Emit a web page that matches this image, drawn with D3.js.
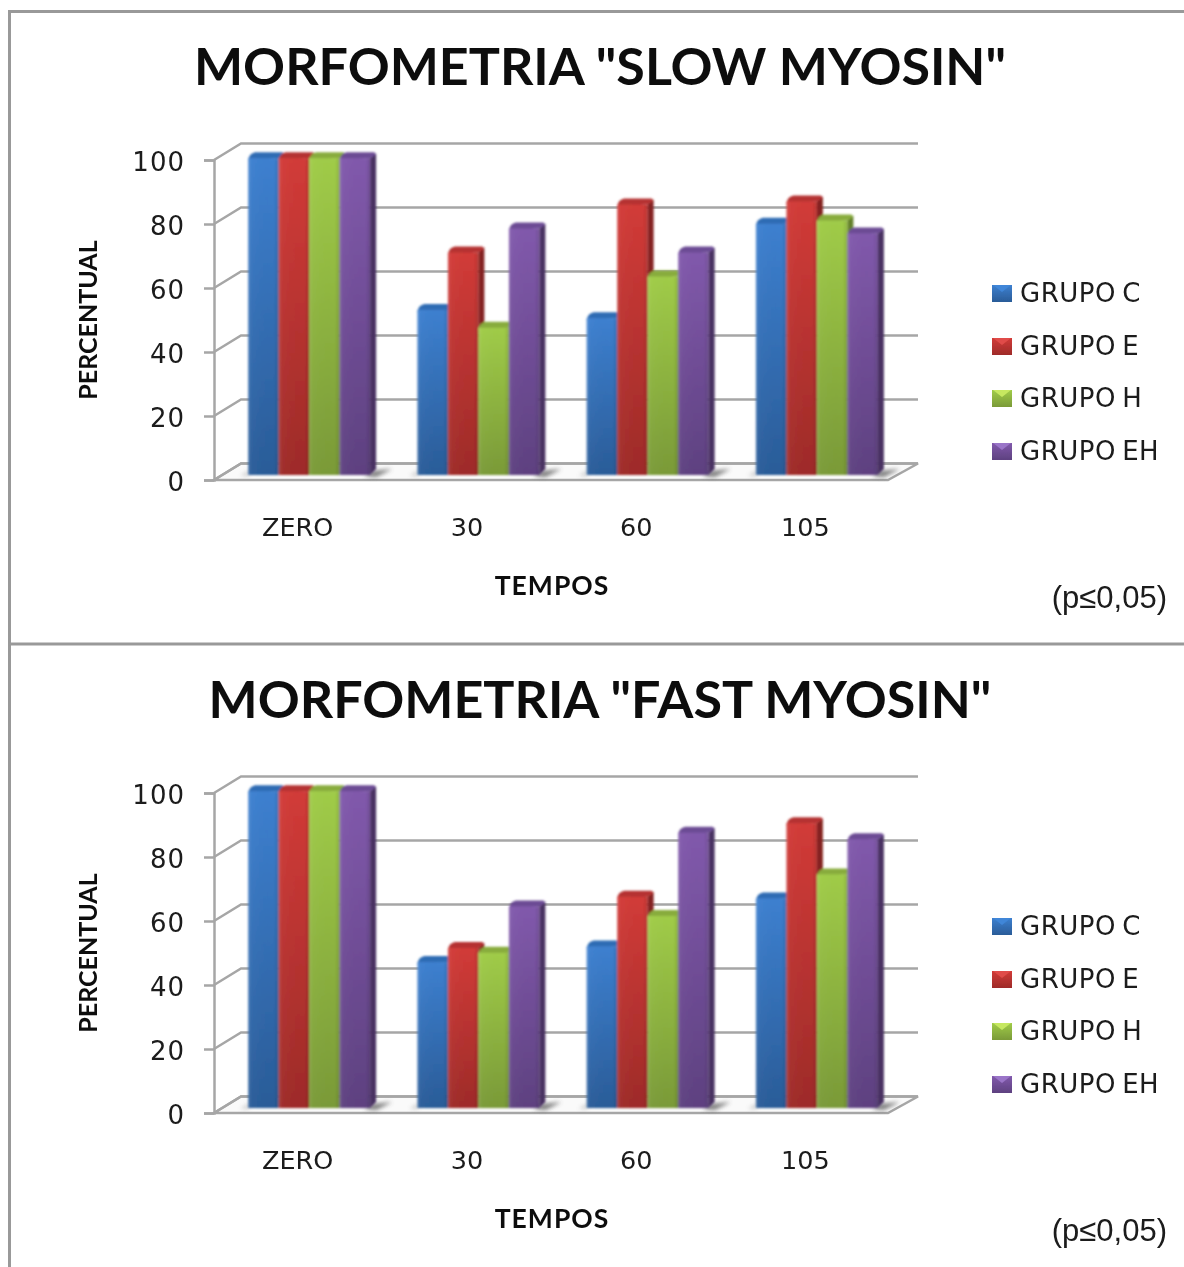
<!DOCTYPE html>
<html><head><meta charset="utf-8">
<script src="https://cdn.jsdelivr.net/npm/d3@7"></script>
<style>html,body{margin:0;padding:0;background:#fff}svg{display:block}text{fill:#1a1a1a}</style>
</head><body><svg id="c" width="1184" height="1267"></svg>
<script>
const categories = ["ZERO","30","60","105"];
const seriesNames = ["GRUPO C","GRUPO E","GRUPO H","GRUPO EH"];
const slowC = [99,51.6,49,78.5];
const slowE = [99,69.5,84.5,85.5];
const slowH = [99,46,62,79.5];
const slowEH = [99,77,69.5,75.5];
const fastC = [99,45.6,50.5,65.5];
const fastE = [99,50,66,89];
const fastH = [99,48.5,60,73];
const fastEH = [99,63,86,84];
const yTicks = [0,20,40,60,80,100];
const titles = ['MORFOMETRIA "SLOW MYOSIN"','MORFOMETRIA "FAST MYOSIN"'];
const palette = [
 {hi:"#3d80d0",lo:"#2a5c98",side:"#1f4a7c",top:"#2f6cb4",sw:"#3f86d8"},
 {hi:"#d23b38",lo:"#9e2b29",side:"#842321",top:"#b53230",sw:"#e04c48"},
 {hi:"#a0cc48",lo:"#7a9a38",side:"#64802c",top:"#88ac3c",sw:"#c6e860"},
 {hi:"#8159ac",lo:"#5e4180",side:"#483362",top:"#6c4c94",sw:"#9a74c8"}
];
const svg = d3.select("#c");
const defs = svg.append("defs");
defs.append("filter").attr("id","soft").append("feGaussianBlur").attr("stdDeviation",0.6);
defs.append("filter").attr("id","barsoft").append("feGaussianBlur").attr("stdDeviation",0.9);
const shf=defs.append("filter").attr("id","shadow").attr("x","-50%").attr("y","-100%").attr("width","200%").attr("height","300%");
shf.append("feGaussianBlur").attr("stdDeviation",2);
palette.forEach((p,i)=>{
  const g=defs.append("linearGradient").attr("id","g"+i).attr("x1",0).attr("x2",0).attr("y1",0).attr("y2",1);
  g.append("stop").attr("offset",0).attr("stop-color",p.hi);
  g.append("stop").attr("offset",1).attr("stop-color",p.lo);
});
const bevel=defs.append("linearGradient").attr("id","bevel");
[[0,"#fff",.14],[.1,"#fff",.02],[.85,"#000",0],[1,"#000",.12]].forEach(d=>
  bevel.append("stop").attr("offset",d[0]).attr("stop-color",d[1]).attr("stop-opacity",d[2]));

const root = svg.append("g").attr("filter","url(#soft)");
const frame=root.append("g").attr("stroke","#999").attr("stroke-width",3).attr("fill","none");
frame.append("path").attr("d","M1184 11.5H9.5V1267");
frame.append("path").attr("d","M9.5 644H1184");

function chart(dy,title,data){
  const g=root.append("g").attr("transform",`translate(0,${dy})`);
  const y=d3.scaleLinear().domain([0,100]).range([480,160]);
  const x=d3.scaleBand().domain(categories).range([213,890]);
  const dxW=27, dyW=-16.5, rightBack=918, rightFront=888;
  g.append("text").attr("x",600).attr("y",85).attr("text-anchor","middle")
    .attr("font-family","Lato").attr("font-weight",700).attr("font-size",52).style("fill","#111").text(title);
  g.append("path").attr("d",`M214 ${y(0)}L${rightFront} ${y(0)}L${rightBack} ${y(0)+dyW}L${214+dxW} ${y(0)+dyW}Z`)
    .attr("fill","#fafafa").attr("stroke","#a6a6a6").attr("stroke-width",2.5);
  const grid=g.append("g").attr("fill","none").attr("stroke","#a6a6a6").attr("stroke-width",2.5);
  grid.selectAll("path").data(yTicks).join("path")
    .attr("d",v=>`M214 ${y(v)}L${214+dxW} ${y(v)+dyW}H${rightBack}`);
  const ya=g.append("g").attr("transform","translate(214,0)")
    .call(d3.axisLeft(y).tickValues(yTicks).tickSize(10).tickPadding(19));
  ya.selectAll("path,line").attr("stroke","#a6a6a6").attr("stroke-width",2.5);
  ya.selectAll("text").attr("font-family","DejaVu Sans").attr("font-size",26).attr("dy","0.4em").style("letter-spacing","1px");
  const xa=g.append("g").attr("transform",`translate(0,${y(0)})`)
    .call(d3.axisBottom(x).tickSize(0).tickPadding(38));
  xa.select("path").remove();
  xa.selectAll("text").attr("font-family","DejaVu Sans").attr("font-size",25.5).attr("dy","0.71em");
  const groupW=122, bx=11.5, base=475, hScale=y(0)-y(1);
  const inner=d3.scaleBand().domain(d3.range(4)).range([0,groupW]);
  const dep=6, up=6;
  categories.forEach(c=>{
    const x0=x(c)+x.bandwidth()/2+bx-groupW/2;
    g.append("path").attr("d",`M${x0+groupW-6} ${base+1}L${x0+groupW+3} ${base-4}L${x0+groupW+22} ${base-6}L${x0+groupW+6} ${base+2}Z`)
      .attr("fill","#444").attr("opacity",.7).attr("filter","url(#shadow)");
    g.append("path").attr("d",`M${x0-8} ${base+1}L${x0+1} ${base-5}V${base+1}Z`)
      .attr("fill","#888").attr("opacity",.4).attr("filter","url(#shadow)");
  });
  const barsG=g.append("g").attr("filter","url(#barsoft)");
  data.forEach((vals,si)=>{
    const s=barsG.append("g");
    categories.forEach((c,ci)=>{
      const v=vals[ci];
      const x0=x(c)+x.bandwidth()/2+bx-groupW/2+inner(si);
      const top=base-v*hScale, w=inner.bandwidth();
      const p=palette[si];
      s.append("path").attr("d",`M${x0+w} ${top}L${x0+w+dep} ${top-up+1}V${base-up}L${x0+w} ${base}Z`).attr("fill",p.side);
      s.append("path").attr("d",`M${x0} ${top+2}Q${x0+1} ${top-up+1} ${x0+dep+1} ${top-up}H${x0+w+dep-2}L${x0+w+dep} ${top-up+2}L${x0+w} ${top}Z`).attr("fill",p.top);
      s.append("rect").attr("x",x0).attr("y",top).attr("width",w).attr("height",base-top).attr("fill",`url(#g${si})`);
      s.append("rect").attr("x",x0).attr("y",top).attr("width",w).attr("height",base-top).attr("fill","url(#bevel)");
    });
  });
  g.append("text").attr("transform","translate(97,320) rotate(-90)").attr("text-anchor","middle")
    .attr("font-family","Lato").attr("font-weight",700).attr("font-size",25).style("fill","#111").text("PERCENTUAL");
  g.append("text").attr("x",552).attr("y",595).attr("text-anchor","middle")
    .attr("font-family","Lato").attr("font-weight",700).attr("font-size",26.5).style("letter-spacing","1px").style("fill","#111").text("TEMPOS");
  const rows=[293,346,398,451];
  const lg=g.append("g").selectAll("g").data(seriesNames).join("g")
    .attr("transform",(d,i)=>`translate(992,${rows[i]})`);
  lg.append("rect").attr("x",0).attr("y",-8).attr("width",20).attr("height",17).attr("fill",(d,i)=>`url(#g${i})`);
  lg.append("path").attr("d","M1 -8H19L10 -1Z").attr("fill",(d,i)=>palette[i].sw);
  lg.append("text").attr("x",28).attr("y",9).attr("font-family","DejaVu Sans").attr("font-size",26)
    .style("word-spacing","-2.5px").style("letter-spacing","0.5px").text(d=>d);
  g.append("text").attr("x",1167).attr("y",608).attr("text-anchor","end").attr("font-family","Liberation Sans").attr("font-size",31).text("(p≤0,05)");
}
chart(0,titles[0],[slowC,slowE,slowH,slowEH]);
chart(633,titles[1],[fastC,fastE,fastH,fastEH]);
</script></body></html>
